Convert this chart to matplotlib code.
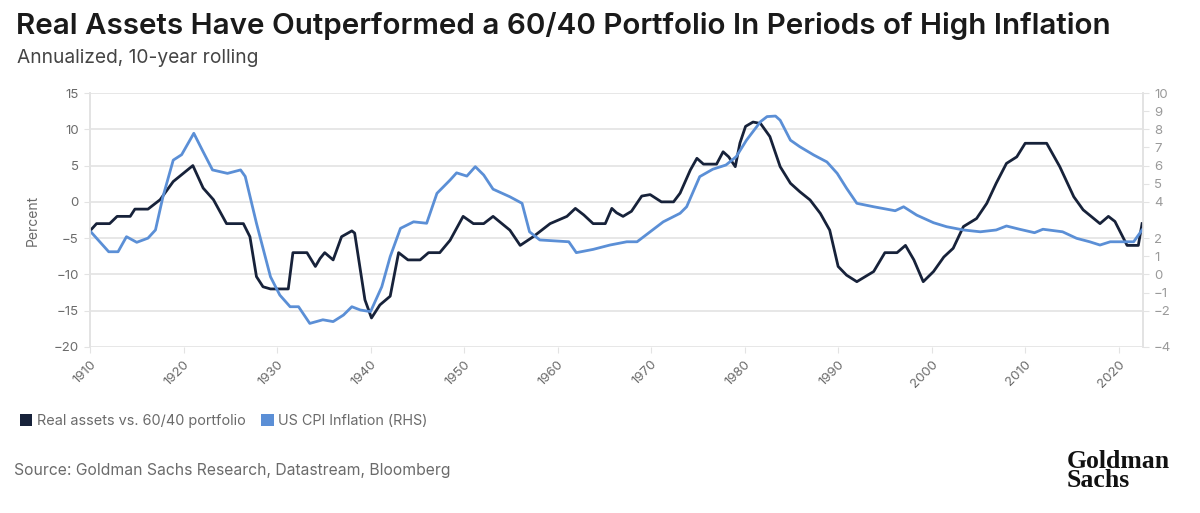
import matplotlib
matplotlib.use("Agg")
import matplotlib.pyplot as plt
from matplotlib.patches import Patch

# ---- data ----
real_years = [1910.0, 1910.7, 1912.1, 1912.9, 1914.3, 1914.8, 1916.2, 1917.5, 1918.9, 1921.0,
              1922.1, 1923.2, 1924.6, 1926.4, 1927.1, 1927.8, 1928.5, 1929.3, 1931.2, 1931.7,
              1933.2, 1934.1, 1934.6, 1935.1, 1936.0, 1936.9, 1938.0, 1938.3, 1939.4, 1940.1,
              1941.0, 1942.1, 1943.0, 1944.0, 1945.3, 1946.2, 1947.4, 1948.5, 1949.9, 1951.0,
              1952.1, 1953.1, 1954.9, 1956.0, 1957.4, 1959.2, 1961.0, 1961.9, 1962.8, 1963.8,
              1965.1, 1965.8, 1966.3, 1967.0, 1967.9, 1969.0, 1969.9, 1971.1, 1972.4, 1973.1,
              1974.2, 1974.9, 1975.6, 1977.0, 1977.7, 1978.3, 1979.0, 1979.5, 1980.1, 1980.9,
              1981.7, 1982.7, 1983.8, 1984.9, 1985.9, 1987.0, 1988.1, 1989.1, 1990.0, 1990.9,
              1992.0, 1993.8, 1995.0, 1996.3, 1997.2, 1998.1, 1999.1, 2000.2, 2001.3, 2002.3,
              2003.4, 2004.8, 2005.9, 2006.9, 2008.0, 2009.1, 2010.0, 2012.3, 2013.7, 2015.2,
              2016.2, 2018.0, 2018.9, 2019.6, 2020.9, 2022.1, 2022.5]
real_vs_6040 = [-4, -3, -3, -2, -2, -1, -1, 0.3, 2.8, 5,
                1.9, 0.3, -3, -3, -4.8, -10.3, -11.7, -12, -12, -7,
                -7, -8.9, -7.8, -7, -8, -4.8, -4, -4.3, -13.5, -16,
                -14.2, -13, -7, -8, -8, -7, -7, -5.3, -2, -3,
                -3, -2, -3.9, -6, -4.8, -3, -2, -0.9, -1.8, -3,
                -3, -0.9, -1.5, -2, -1.3, 0.8, 1, 0, 0, 1.2,
                4.4, 6.0, 5.2, 5.2, 6.9, 6.2, 4.85, 8.1, 10.4, 11.0,
                10.8, 9.0, 4.85, 2.56, 1.4, 0.26, -1.6, -3.9, -8.9, -10.1,
                -11, -9.6, -7, -7, -6, -8, -11, -9.6, -7.6, -6.4,
                -3.4, -2.3, -0.2, 2.56, 5.3, 6.2, 8.07, 8.07, 4.85, 0.7,
                -1.1, -3, -2, -2.7, -6, -6, -3]

cpi_years = [1910.0, 1912.0, 1913.0, 1913.9, 1915.0, 1916.2, 1917.0, 1917.8, 1918.9, 1919.8,
             1921.1, 1922.0, 1923.1, 1924.7, 1926.1, 1926.6, 1927.8, 1929.3, 1930.3, 1931.4,
             1932.3, 1933.5, 1934.9, 1936.0, 1937.1, 1938.0, 1938.9, 1940.0, 1941.2, 1942.1,
             1943.2, 1944.6, 1946.0, 1947.1, 1948.5, 1949.2, 1950.3, 1951.2, 1952.1, 1953.1,
             1954.9, 1956.2, 1957.0, 1958.1, 1961.2, 1962.0, 1963.8, 1965.6, 1967.4, 1968.5,
             1969.9, 1971.3, 1973.1, 1973.8, 1975.2, 1976.6, 1978.0, 1979.1, 1980.2, 1981.7,
             1982.4, 1983.3, 1983.8, 1984.9, 1985.9, 1987.4, 1988.8, 1989.9, 1990.9, 1992.0,
             1993.8, 1996.1, 1997.0, 1998.4, 2000.2, 2001.6, 2003.4, 2005.2, 2006.9, 2008.0,
             2009.4, 2011.0, 2011.9, 2014.0, 2015.5, 2016.9, 2018.0, 2019.1, 2021.6, 2022.5]
us_cpi = [2.4, 1.25, 1.25, 2.08, 1.77, 2.0, 2.45, 4.28, 6.3, 6.6,
          7.78, 6.86, 5.76, 5.57, 5.76, 5.4, 2.82, -0.13, -1.14, -1.78,
          -1.78, -2.7, -2.5, -2.6, -2.24, -1.78, -1.96, -2.05, -0.68, 0.98,
          2.54, 2.9, 2.82, 4.47, 5.2, 5.6, 5.42, 5.94, 5.48, 4.7,
          4.28, 3.92, 2.35, 1.9, 1.8, 1.2, 1.38, 1.62, 1.8, 1.8,
          2.35, 2.9, 3.37, 3.73, 5.39, 5.8, 6.03, 6.49, 7.4, 8.42,
          8.7, 8.73, 8.5, 7.4, 7.04, 6.58, 6.2, 5.57, 4.75, 3.92,
          3.73, 3.51, 3.73, 3.27, 2.85, 2.63, 2.45, 2.35, 2.45, 2.67,
          2.49, 2.3, 2.49, 2.35, 1.99, 1.8, 1.62, 1.8, 1.8, 2.45]

x_ticks = [1910, 1920, 1930, 1940, 1950, 1960, 1970, 1980, 1990, 2000, 2010, 2020]
left_ticks = [15, 10, 5, 0, -5, -10, -15, -20]
right_ticks = [10, 9, 8, 7, 6, 5, 4, 2, 1, 0, -1, -2, -4]

title = "Real Assets Have Outperformed a 60/40 Portfolio In Periods of High Inflation"
subtitle = "Annualized, 10-year rolling"
legend_labels = ["Real assets vs. 60/40 portfolio", "US CPI Inflation (RHS)"]
source = "Source: Goldman Sachs Research, Datastream, Bloomberg"

# ---- style ----
DARK = "#17223a"
BLUE = "#5b8fd6"
GRID = "#e3e3e3"
TXT = "#6b6b6b"
FONT = ["Inter", "DejaVu Sans"]
plt.rcParams["font.family"] = FONT

fig = plt.figure(figsize=(12, 5.13), dpi=100)
ax = fig.add_axes([0.075, 0.3236, 0.8775, 0.4951])
ax2 = ax.twinx()

ax.plot(real_years, real_vs_6040, color=DARK, lw=2.0, zorder=3)
ax2.plot(cpi_years, us_cpi, color=BLUE, lw=2.0, zorder=2)

ax.set_xlim(1910, 2022.6)
ax.set_ylim(-20, 15)
ax2.set_ylim(-4, 10)

ax.set_yticks(left_ticks)
ax2.set_yticks(right_ticks)
ax.set_xticks(x_ticks)
ax.set_xticklabels([str(t) for t in x_ticks], rotation=45, ha="right",
                   rotation_mode="anchor", fontsize=9.5, color=TXT)
ax.tick_params(axis="x", length=4, color=GRID, pad=4)
ax.tick_params(axis="y", length=4, color=GRID, labelsize=9.5, labelcolor=TXT, pad=4)
ax2.tick_params(axis="y", length=4, color=GRID, labelsize=9.5, labelcolor="#9a9a9a", pad=4)

ax.grid(axis="y", color=GRID, lw=1.2)
ax.set_axisbelow(True)
for a in (ax, ax2):
    for s in ("top", "bottom"):
        a.spines[s].set_visible(False)
    a.spines["left"].set_color(GRID)
    a.spines["right"].set_color(GRID)
    a.spines["left"].set_linewidth(1.2)
    a.spines["right"].set_linewidth(1.2)

ax.set_ylabel("Percent", fontsize=10, color=TXT, labelpad=10)

fig.text(0.013, 0.977, title, fontsize=21.3, fontweight="semibold", color="#1a1a1a",
         va="top", ha="left")
fig.text(0.014, 0.905, subtitle, fontsize=13.8, color="#444444", va="top", ha="left")

handles = [Patch(facecolor=DARK, edgecolor="none"), Patch(facecolor=BLUE, edgecolor="none")]
fig.legend(handles, legend_labels, loc="center left", bbox_to_anchor=(0.006, 0.179),
           ncol=2, frameon=False, handlelength=0.85, handleheight=0.85, handletextpad=0.3,
           columnspacing=1.1, prop={"size": 10.4}, labelcolor=TXT)

fig.text(0.012, 0.083, source, fontsize=11.3, color=TXT, va="center", ha="left")
fig.text(0.889, 0.04, "Goldman\nSachs", fontsize=18.5, fontweight="bold",
         family=["Liberation Serif", "DejaVu Serif"], color="#111111",
         va="bottom", ha="left", linespacing=0.82)

fig.savefig("out.png", dpi=100, facecolor="white")
